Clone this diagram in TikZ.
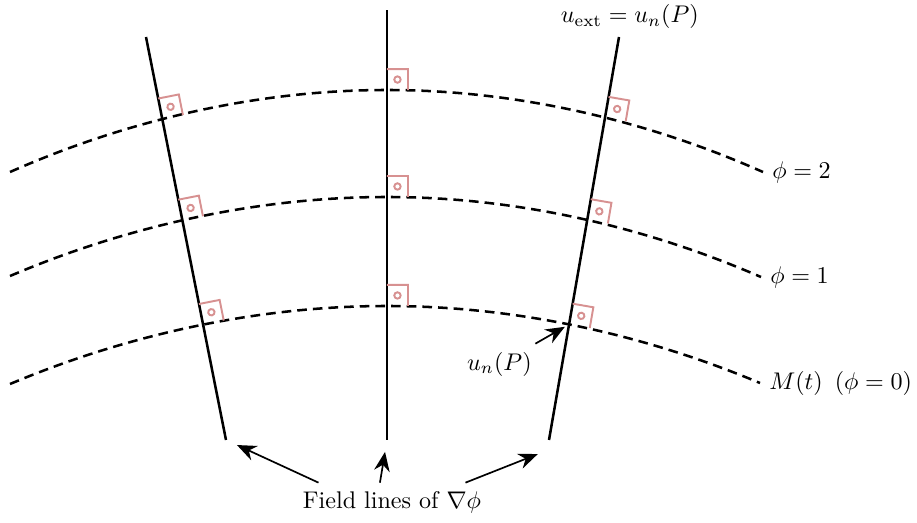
\documentclass[tikz,border=0pt]{standalone}
\usepackage{amsmath,amssymb}
\usepackage{tikz}
\usetikzlibrary{intersections, calc, arrows.meta}
\usetikzlibrary{positioning}

\definecolor{markred}{RGB}{215,145,145}

\begin{document}
\begin{tikzpicture}[x=0.415pt,y=0.415pt,
    fline/.style={line width=1.05pt},
    lvl/.style={line width=1.05pt,dash pattern=on 4pt off 2.5pt},
    rmark/.style={markred,line width=0.8pt},
    arr/.style={-{Stealth[length=8pt,width=6.5pt]},line width=0.7pt}]
    \useasboundingbox (0,0) rectangle (917,523);
    % 力線
    \coordinate (fl1b) at (226,83); \coordinate (fl1t) at (146,486);
    \coordinate (fl2b) at (387,83); \coordinate (fl2t) at (387,513);
    \coordinate (fl3b) at (549,83); \coordinate (fl3t) at (619,486);
    \draw[fline,name path=fl1] (fl1b) --(fl1t);
    \draw[fline,name path=fl2] (fl2b) --(fl2t);
    \draw[fline,name path=fl3] (fl3b) --(fl3t);
    % 等位線
    \draw[lvl,name path=lv2] (10,351) parabola bend (387,433) (763,351) node[right] (lbl2) {$\phi = 2$};
    \draw[lvl,name path=lv1] (10,247) parabola bend (387,326) (761,246) node[right] (lbl1) {$\phi = 1$};
    \draw[lvl,name path=lv0] (10,139) parabola bend (387,217) (760,140) node[right] (lbl0) {$M(t)\enspace(\phi = 0)$};
    % 直角の印
    \foreach \l/\a in {fl1/101.2, fl2/90, fl3/80.2} {
        \foreach \v in {lv0,lv1,lv2} {
            \path[name intersections/.expanded={of=\l\space and \v, by=I}];
            \draw[rmark,shift={(I)},rotate=\a-90] (0,21) --(21,21) --(21,0) (10.5,10.5) circle (3.2);
        }
    }
    % 点P
    \path[name intersections={of=fl3 and lv0, by=P}];
    \node[below left=8pt and 12pt of P] (unP) {$u_n(P)$};
    \draw[arr,shorten >=2pt] (unP) --(P);
    \node[above,xshift=4.5pt] (uext) at (fl3t) {$u_{\text{ext}} = u_n(P)$};
    % ラベル
    \node (fieldlbl) at (392,21) {Field lines of $\nabla\phi$};
    \draw[arr,shorten >=5pt] ([xshift=10pt]fieldlbl.north west) --(fl1b);
    \draw[arr,shorten >=5pt] ([xshift=-5pt]fieldlbl.north) --(fl2b);
    \draw[arr,shorten >=5pt] ([xshift=-10pt]fieldlbl.north east) --([yshift=-4pt]fl3b);
\end{tikzpicture}
\end{document}
